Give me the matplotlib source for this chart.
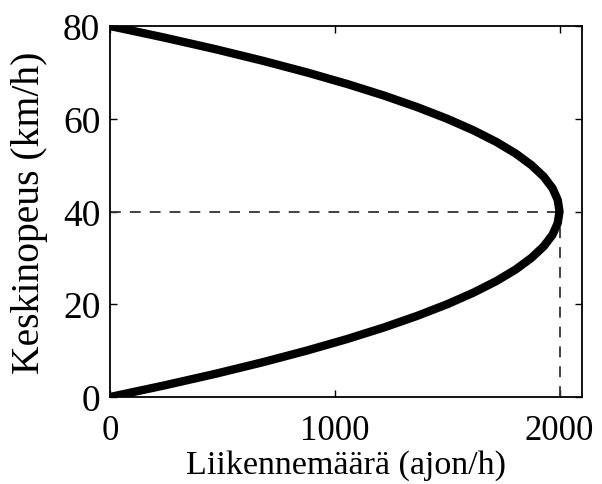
import matplotlib.pyplot as plt

# speed (km/h) and flow (veh/h)
speed = [0, 2.5, 5, 7.5, 10, 12.5, 15, 17.5, 20, 22.5, 25, 27.5, 30, 32.5, 35, 37.5, 40,
         42.5, 45, 47.5, 50, 52.5, 55, 57.5, 60, 62.5, 65, 67.5, 70, 72.5, 75, 77.5, 80]
flow = [0, 242, 469, 680, 875, 1055, 1219, 1367, 1500, 1617, 1719, 1805, 1875, 1930, 1969, 1992, 2000,
        1992, 1969, 1930, 1875, 1805, 1719, 1617, 1500, 1367, 1219, 1055, 875, 680, 469, 242, 0]

q_max = 2000
v_crit = 40

plt.rcParams['font.family'] = ['Liberation Serif', 'DejaVu Serif']

fig = plt.figure(figsize=(6.02, 4.85), dpi=100)
ax = fig.add_axes([110 / 602, 1 - 398 / 485, 472 / 602, 371 / 485])

ax.plot([0, q_max], [v_crit, v_crit], color='#333333', lw=1.3, dashes=(6, 5))
ax.plot([q_max, q_max], [0, v_crit], color='#333333', lw=1.3, dashes=(6, 5))
ax.plot(flow, speed, color='black', lw=6, solid_capstyle='butt')

ax.set_xlim(0, 2100)
ax.set_ylim(0, 80)
ax.set_xticks([0, 1000, 2000])
ax.set_yticks([0, 20, 40, 60, 80])
ax.tick_params(direction='in', length=5, width=1, top=True, right=True)
ax.tick_params(axis='x', labelsize=25, pad=12)
ax.tick_params(axis='y', labelsize=27, pad=7)
for spine in ax.spines.values():
    spine.set_linewidth(1.3)

ax.set_xlabel('Liikennemäärä (ajon/h)', fontsize=24.5, labelpad=2)
ax.set_ylabel('Keskinopeus (km/h)', fontsize=28.5)
ax.yaxis.set_label_coords(-62 / 472, 0.5)

fig.savefig('out.png', dpi=100)
